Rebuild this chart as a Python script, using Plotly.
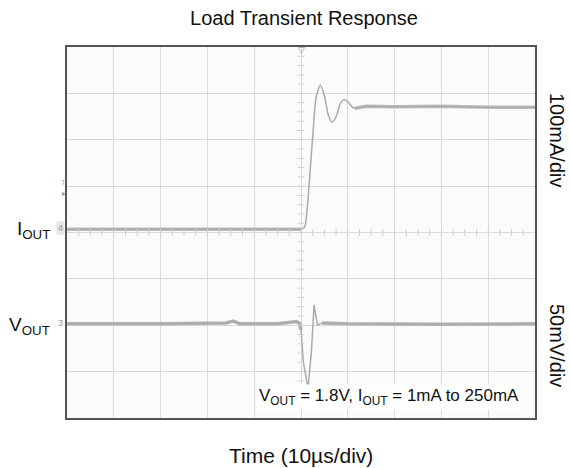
import numpy as np
import plotly.graph_objects as go

# Screen divisions (x: 10 div of 10 µs, y: 8 div)
iout_t = [0, 2.0, 4.0, 4.9, 5.0, 5.08, 5.14, 5.2, 5.26, 5.32, 5.41, 5.5, 5.58, 5.66, 5.75, 5.84, 5.92,
          6.0, 6.08, 6.15, 6.4, 7.0, 8.0, 9.0, 10.0]
iout_y = [4.07, 4.07, 4.07, 4.07, 4.07, 4.12, 4.6, 5.4, 6.2, 6.9, 7.18, 6.95, 6.55, 6.38, 6.5, 6.78, 6.87,
          6.82, 6.72, 6.68, 6.72, 6.71, 6.72, 6.70, 6.70]
vout_t = [0, 2.0, 3.4, 3.55, 3.7, 4.5, 4.9, 4.97, 5.0, 5.05, 5.15, 5.22, 5.28, 5.35, 5.45, 6.0, 8.0, 10.0]
vout_y = [2.03, 2.03, 2.05, 2.09, 2.03, 2.03, 2.08, 2.04, 1.9, 1.2, 0.65, 1.4, 2.44, 2.0, 2.05, 2.03, 2.02, 2.03]

LINE = "#ababab"
fig = go.Figure()

# thick "noisy" steady-state segments
fig.add_trace(go.Scatter(x=iout_t[:5], y=iout_y[:5], mode="lines",
                         line=dict(color="#bdbdbd", width=3.5), hoverinfo="skip", showlegend=False))
fig.add_trace(go.Scatter(x=iout_t[19:], y=iout_y[19:], mode="lines",
                         line=dict(color="#bdbdbd", width=3.5), hoverinfo="skip", showlegend=False))
fig.add_trace(go.Scatter(x=vout_t[:9], y=vout_y[:9], mode="lines",
                         line=dict(color="#b3b3b3", width=3.5), hoverinfo="skip", showlegend=False))
fig.add_trace(go.Scatter(x=vout_t[14:], y=vout_y[14:], mode="lines",
                         line=dict(color="#b3b3b3", width=3.5), hoverinfo="skip", showlegend=False))
# full traces
fig.add_trace(go.Scatter(x=iout_t, y=iout_y, mode="lines", line=dict(color=LINE, width=1.5, shape="spline", smoothing=0.6),
                         showlegend=False, name="IOUT"))
fig.add_trace(go.Scatter(x=vout_t, y=vout_y, mode="lines", line=dict(color=LINE, width=1.5),
                         showlegend=False, name="VOUT"))

# minor ticks on the centre lines (graticule decoration)
ty = np.arange(0.2, 8, 0.2)
fig.add_trace(go.Scatter(x=[5] * len(ty), y=ty, mode="markers",
                         marker=dict(symbol="line-ew", size=5, line=dict(color="#d0d0d0", width=1)),
                         hoverinfo="skip", showlegend=False))
tx = np.arange(0.25, 10, 0.25)
fig.add_trace(go.Scatter(x=tx, y=[4] * len(tx), mode="markers",
                         marker=dict(symbol="line-ns", size=5, line=dict(color="#d0d0d0", width=1)),
                         hoverinfo="skip", showlegend=False))

FONT = "Liberation Sans, Arial, sans-serif"
axis = dict(showgrid=True, gridcolor="#dadada", gridwidth=1, zeroline=False, showticklabels=False,
            ticks="", showline=True, linecolor="#555555", linewidth=1.5, mirror=True, fixedrange=True)
fig.update_layout(
    width=570, height=468,
    margin=dict(l=67, r=35, t=47, b=50),
    paper_bgcolor="white", plot_bgcolor="#fbfbfb",
    font=dict(family=FONT, color="#111111"),
    xaxis=dict(range=[0, 10], dtick=1, **axis),
    yaxis=dict(range=[0, 8], dtick=1, **axis),
    title=dict(text="Load Transient Response", x=304 / 570, xanchor="center", y=1 - 18 / 468,
               yanchor="middle", font=dict(size=20, family=FONT, color="#111111")),
)

ann = [
    dict(text="Time (10µs/div)", x=(301 - 67) / 468, y=(418 - 455) / 371, xref="paper", yref="paper",
         showarrow=False, font=dict(size=21), xanchor="center", yanchor="middle"),
    dict(text="100mA/div", x=(557 - 67) / 468, y=(418 - 140) / 371, xref="paper", yref="paper",
         showarrow=False, textangle=90, font=dict(size=20), xanchor="center", yanchor="middle"),
    dict(text="50mV/div", x=(557 - 67) / 468, y=(418 - 345) / 371, xref="paper", yref="paper",
         showarrow=False, textangle=90, font=dict(size=20), xanchor="center", yanchor="middle"),
    dict(text="I<sub>OUT</sub>", x=(52 - 67) / 468, y=(418 - 230) / 371, xref="paper", yref="paper",
         showarrow=False, font=dict(size=19), xanchor="right", yanchor="middle"),
    dict(text="V<sub>OUT</sub>", x=(52 - 67) / 468, y=(418 - 326) / 371, xref="paper", yref="paper",
         showarrow=False, font=dict(size=19), xanchor="right", yanchor="middle"),
    dict(text="V<sub>OUT</sub> = 1.8V, I<sub>OUT</sub> = 1mA to 250mA", x=(389 - 67) / 468,
         y=(418 - 397) / 371, xref="paper", yref="paper", showarrow=False, font=dict(size=17),
         xanchor="center", yanchor="middle", bgcolor="white"),
    # scope markers
    dict(text="▽", x=0.5, y=1 - 3 / 371, xref="paper", yref="paper", showarrow=False,
         font=dict(size=9, color="#888888"), xanchor="center", yanchor="middle"),
    dict(text="4", x=(60 - 67) / 468, y=(418 - 228) / 371, xref="paper", yref="paper", showarrow=False,
         font=dict(size=9, color="#999999"), xanchor="center", yanchor="middle", bgcolor="#e4e4e4"),
    dict(text="3", x=(60 - 67) / 468, y=(418 - 323) / 371, xref="paper", yref="paper", showarrow=False,
         font=dict(size=9, color="#999999"), xanchor="center", yanchor="middle"),
    dict(text="T", x=(63 - 67) / 468, y=(418 - 183) / 371, xref="paper", yref="paper", showarrow=False,
         font=dict(size=8, color="#aaaaaa"), xanchor="center", yanchor="middle"),
    dict(text="▸", x=(64 - 67) / 468, y=(418 - 193) / 371, xref="paper", yref="paper", showarrow=False,
         font=dict(size=8, color="#999999"), xanchor="center", yanchor="middle"),
]
fig.update_layout(annotations=ann)

fig.write_html("out.html", config={"displayModeBar": False},
               post_script="document.body.style.margin='0';document.body.style.overflow='hidden';")
